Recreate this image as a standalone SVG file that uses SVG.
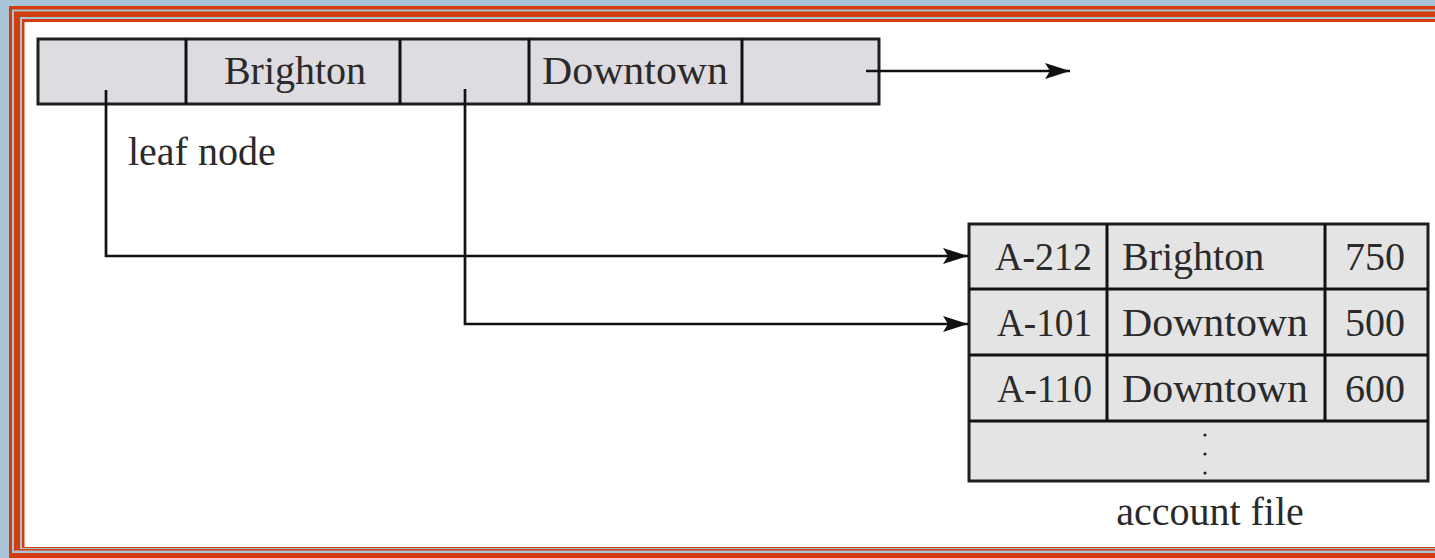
<svg xmlns="http://www.w3.org/2000/svg" width="1435" height="558" viewBox="0 0 1435 558">
<style>
.t{font-family:"Liberation Serif","Times New Roman",serif;font-size:40px;fill:#2a2a2a}
.cell{fill:#dedce0;stroke:#1e1e1e;stroke-width:3}
.tab{fill:#e4e4e4;stroke:#1e1e1e;stroke-width:3}
.ln{fill:none;stroke:#111;stroke-width:3}
.c{fill:none;stroke:#111;stroke-width:2.7}
</style>
<defs>
<marker id="ah" markerUnits="userSpaceOnUse" markerWidth="30" markerHeight="22" refX="25" refY="11" orient="auto">
<path d="M0,3 L25,11 L0,19 L5,11 Z" fill="#111"/>
</marker>
</defs>
<rect x="0" y="0" width="1435" height="558" fill="#a8c3d5"/>
<rect x="9" y="6" width="1440" height="600" fill="#d23d0e"/>
<rect x="12" y="9.5" width="1440" height="543.5" fill="#a8c3d5"/>
<rect x="14" y="11.5" width="1440" height="539" fill="#d23d0e"/>
<rect x="20" y="17" width="1440" height="532" fill="#a8c3d5"/>
<rect x="22" y="19" width="1440" height="529" fill="#d23d0e"/>
<rect x="24.5" y="22" width="1440" height="525" fill="#ffffff"/>
<g id="leaf-node">
<rect class="cell" x="38" y="39" width="841" height="65"/>
<line class="ln" x1="186" y1="39" x2="186" y2="104"/>
<line class="ln" x1="400" y1="39" x2="400" y2="104"/>
<line class="ln" x1="529" y1="39" x2="529" y2="104"/>
<line class="ln" x1="742" y1="39" x2="742" y2="104"/>
<text class="t" x="295" y="84" text-anchor="middle">Brighton</text>
<text class="t" x="635" y="84" text-anchor="middle" textLength="186" lengthAdjust="spacingAndGlyphs">Downtown</text>
</g>
<g id="leaf-label">
<text class="t" x="128" y="165">leaf node</text>
</g>
<g id="account-file">
<rect class="tab" x="969" y="224" width="459" height="257"/>
<line class="ln" x1="969" y1="289" x2="1428" y2="289"/>
<line class="ln" x1="969" y1="355" x2="1428" y2="355"/>
<line class="ln" x1="969" y1="421" x2="1428" y2="421"/>
<line class="ln" x1="1107" y1="224" x2="1107" y2="421"/>
<line class="ln" x1="1325" y1="224" x2="1325" y2="421"/>
<text class="t" x="1092" y="270" text-anchor="end" textLength="97" lengthAdjust="spacingAndGlyphs">A-212</text>
<text class="t" x="1122" y="270">Brighton</text>
<text class="t" x="1375" y="270" text-anchor="middle">750</text>
<text class="t" x="1092" y="336" text-anchor="end" textLength="95" lengthAdjust="spacingAndGlyphs">A-101</text>
<text class="t" x="1122" y="336" textLength="186" lengthAdjust="spacingAndGlyphs">Downtown</text>
<text class="t" x="1375" y="336" text-anchor="middle">500</text>
<text class="t" x="1092" y="402" text-anchor="end" textLength="95" lengthAdjust="spacingAndGlyphs">A-110</text>
<text class="t" x="1122" y="402" textLength="186" lengthAdjust="spacingAndGlyphs">Downtown</text>
<text class="t" x="1375" y="402" text-anchor="middle">600</text>
<circle cx="1205" cy="435" r="1.6" fill="#222"/>
<circle cx="1205" cy="454" r="1.6" fill="#222"/>
<circle cx="1205" cy="473" r="1.6" fill="#222"/>
</g>
<g id="account-label">
<text class="t" x="1210" y="525" text-anchor="middle">account file</text>
</g>
<g id="connectors">
<path class="c" d="M866,71 L1070,71" marker-end="url(#ah)"/>
<path class="c" d="M106,90 L106,256 L968,256" marker-end="url(#ah)"/>
<path class="c" d="M465,89 L465,324 L968,324" marker-end="url(#ah)"/>
</g>
</svg>
